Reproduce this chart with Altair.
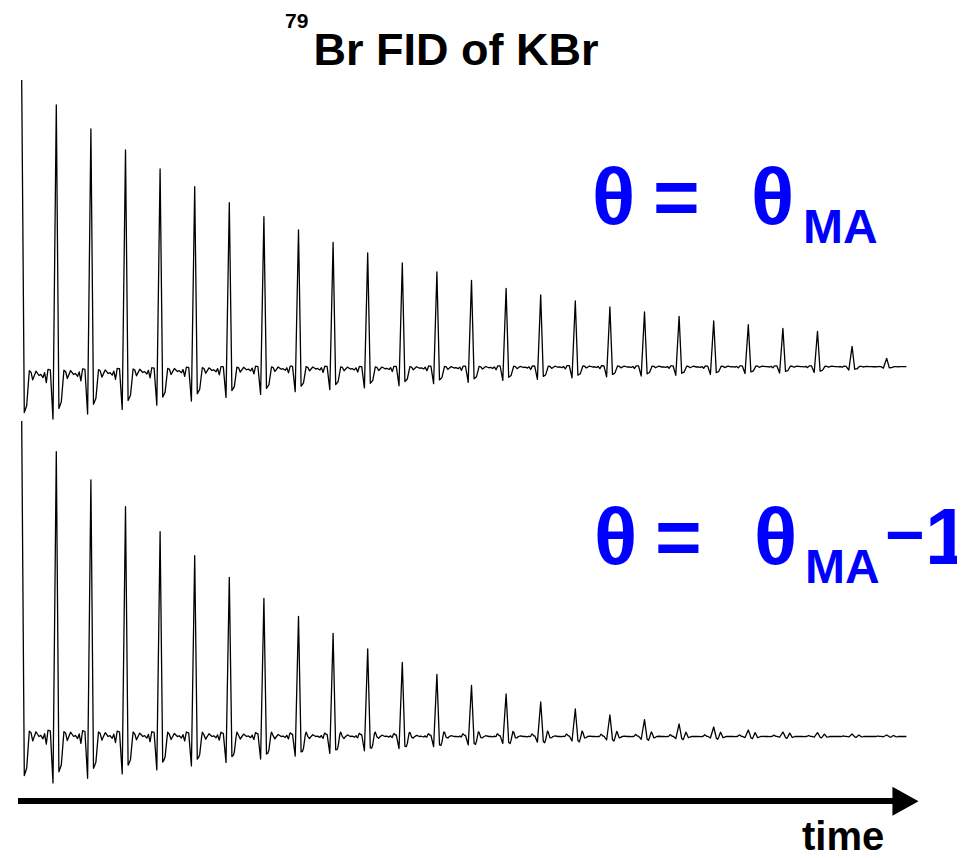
import altair as alt
import numpy as np
import pandas as pd

# ---------------- data ----------------
# one rotor echo per rotor period (time axis in rotor periods)
echo_number = list(range(26))

# echo heights above the baseline (a.u.), top trace: theta = theta_MA
top_echo_amp = [296, 270, 245, 223, 203, 184.3, 167.3, 152.8, 139, 126.7, 116, 105.5, 96,
                87.7, 79.2, 72.5, 66, 60, 55, 50.7, 46, 42, 38.4, 35.4, 20.4, 8.4]
# slow baseline drift of the top trace (a.u.)
top_baseline_drift = [0, 1, 2, 3, 4, 5, 6, 6.5, 7, 7, 7, 7.5, 8, 8, 8.5, 8.5, 9, 9, 9, 9, 9,
                      9.3, 9.3, 9.3, 9.3, 9.3]

# echo heights, bottom trace: theta = theta_MA - 1 degree
bottom_echo_amp = [315.5, 284.8, 256.5, 229.8, 204.8, 180.8, 159.2, 138.2, 120.2, 103.2, 87.5,
                   74.2, 62.2, 51.2, 42.5, 34.5, 27.5, 21.5, 16.8, 12.5, 9.5, 6.5, 4.5, 3.8, 2.5, 1.5]
# slowly decaying satellite component of the bottom trace (a.u.)
bottom_side_amp = [0, 0, 0.5, 1, 1.5, 2, 3, 3.5, 4, 4.5, 5, 5, 5.5, 5.5, 6, 6, 6, 5.5, 5,
                   4.5, 4.5, 4, 3.5, 2.5, 1.5, 1]

# shape of one echo: offset (rotor periods) and value (fraction of echo height)
echo_shape_offset = [-0.5, -0.448, -0.384, -0.338, -0.289, -0.240, -0.173, -0.095, 0.0,
                     0.075, 0.145, 0.220, 0.269, 0.318, 0.364, 0.413, 0.5]
echo_shape_value = [0, 0.004, -0.008, 0.01, -0.027, 0.022, 0.02, -0.163, 1.0,
                    -0.124, -0.10, 0.017, 0.012, -0.014, 0.0, 0.015, 0]
# shape of the satellite component (bottom trace)
side_shape_offset = [-0.318, -0.260, -0.202, 0.058, 0.116, 0.197, 0.269, 0.347]
side_shape_value = [0, 0.4, 0, 0, -0.4, 1.0, -0.3, 0]

record_end = 25.57  # end of acquisition, rotor periods

# ---------------- build the traces ----------------
off = np.array(echo_shape_offset)
soff = np.array(side_shape_offset)
grid = set([0.0, record_end])
for k in echo_number:
    for o in list(off) + list(soff):
        tt = k + o
        if 0 <= tt <= record_end:
            grid.add(round(tt, 4))
t = np.array(sorted(grid))


def trace(amps, side=None):
    s = np.zeros_like(t)
    for k, a in zip(echo_number, amps):
        s += a * np.interp(t - k, off, echo_shape_value, left=0, right=0)
    if side is not None:
        for k, a in zip(echo_number, side):
            s += a * np.interp(t - k, soff, side_shape_value, left=0, right=0)
    return s


TOP_OFFSET = 474
BOTTOM_OFFSET = 113.5
top = trace(top_echo_amp) + TOP_OFFSET + np.interp(t, echo_number, top_baseline_drift)
bottom = trace(bottom_echo_amp, bottom_side_amp) + BOTTOM_OFFSET

df = pd.concat([
    pd.DataFrame({"time": t, "signal": top, "trace": "θ = θMA"}),
    pd.DataFrame({"time": t, "signal": bottom, "trace": "θ = θMA − 1"}),
])

W, H = 949, 842
PX = 34.6
x_scale = alt.Scale(domain=[-13.7 / PX, (W - 13.7) / PX], nice=False, zero=False)
y_scale = alt.Scale(domain=[0, H], nice=False, zero=False)

lines = alt.Chart(df).mark_line(color="black", strokeWidth=1.3, strokeJoin="round").encode(
    x=alt.X("time:Q", scale=x_scale, axis=None),
    y=alt.Y("signal:Q", scale=y_scale, axis=None),
    detail="trace:N",
    order="time:Q",
)

one = pd.DataFrame({"a": [0]})
FONT = "Liberation Sans"


def label(text, x, y, size, color="black"):
    return alt.Chart(one).mark_text(
        align="left", baseline="alphabetic", font=FONT, fontWeight="bold",
        fontSize=size, color=color,
    ).encode(x=alt.value(x), y=alt.value(y), text=alt.value(text))


BLUE = "#0000ff"
labels = [
    label("79", 277, 20.3, 21),
    label("Br FID of KBr", 305.5, 57, 45),
    label("θ", 584, 216, 80, BLUE),
    label("=", 645, 216, 80, BLUE),
    label("θ", 743, 216, 80, BLUE),
    label("MA", 795, 235, 48, BLUE),
    label("θ", 586, 556, 80, BLUE),
    label("=", 647, 556, 80, BLUE),
    label("θ", 746, 556, 80, BLUE),
    label("MA", 797, 575, 48, BLUE),
    label("−", 877, 550, 68, BLUE),
    label("1", 917, 555.5, 80, BLUE),
    label("time", 794, 842, 40),
]

arrow_line = alt.Chart(one).mark_rule(color="black", strokeWidth=6).encode(
    x=alt.value(10), x2=alt.value(886), y=alt.value(793)
)
arrow_head = alt.Chart(one).mark_point(
    shape="M-0.9,-1L0.9,0L-0.9,1Z", filled=True, size=841, color="black", opacity=1
).encode(x=alt.value(897.5), y=alt.value(793.3))

chart = alt.layer(lines, arrow_line, arrow_head, *labels).properties(
    width=W, height=H, padding=0,
    autosize=alt.AutoSizeParams(type="none"),
).configure_view(stroke=None)

chart.save("out.html", embed_options={"renderer": "svg", "actions": False})
